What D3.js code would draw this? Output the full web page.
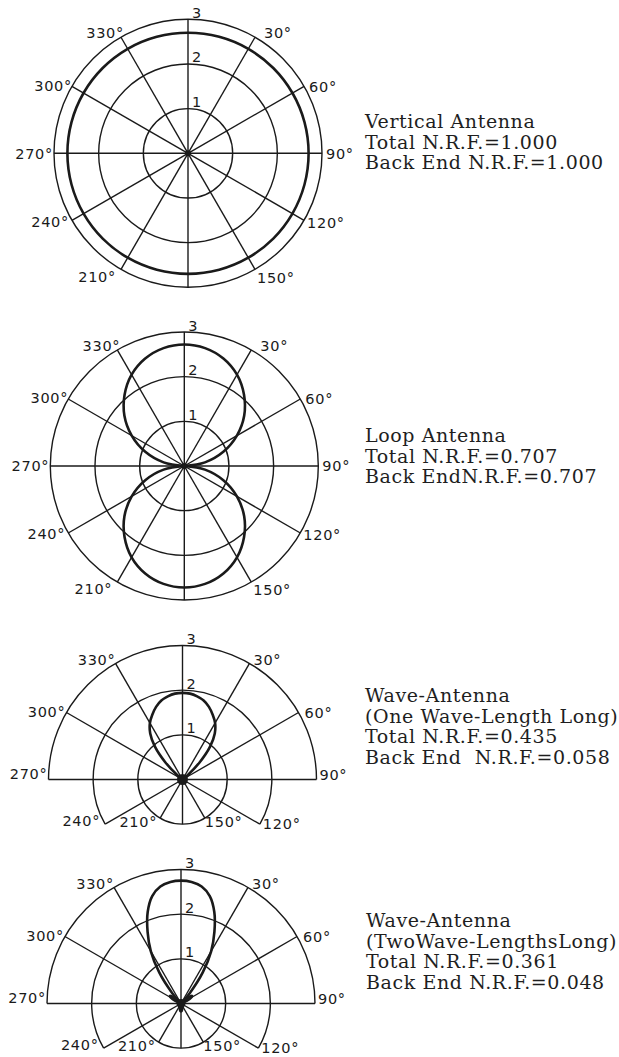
<!DOCTYPE html>
<html>
<head>
<meta charset="utf-8">
<script src="https://cdn.jsdelivr.net/npm/d3@7"></script>
<style>
  html, body { margin: 0; padding: 0; background: #fff; }
  svg { display: block; }
  .deg { font-family: "DejaVu Sans", sans-serif; font-size: 14.5px; letter-spacing: 0.7px; fill: #1a1a1a; }
  .caption { font-family: "DejaVu Serif", serif; font-size: 19px; letter-spacing: 0.6px; fill: #1e1e1e; white-space: pre; }
</style>
</head>
<body>
<script>
// ---- shared axes ----
const angleTicks = [0, 30, 60, 90, 120, 150, 180, 210, 240, 270, 300, 330];
const angleTickLabels = ["", "30°", "60°", "90°", "120°", "150°", "", "210°", "240°", "270°", "300°", "330°"];
const ringTicks = [1, 2, 3];
const ringTickLabels = ["1", "2", "3"];

// ---- radiation patterns (degrees, relative field strength) ----
const verticalAngles = [0, 15, 30, 45, 60, 75, 90, 105, 120, 135, 150, 165, 180, 195, 210, 225, 240, 255, 270, 285, 300, 315, 330, 345];
const verticalValues = [2.7, 2.7, 2.7, 2.7, 2.7, 2.7, 2.7, 2.7, 2.7, 2.7, 2.7, 2.7, 2.7, 2.7, 2.7, 2.7, 2.7, 2.7, 2.7, 2.7, 2.7, 2.7, 2.7, 2.7];

const loopAngles = [0, 10, 20, 30, 40, 50, 60, 70, 80, 90, 100, 110, 120, 130, 140, 150, 160, 170, 180, 190, 200, 210, 220, 230, 240, 250, 260, 270, 280, 290, 300, 310, 320, 330, 340, 350];
const loopValues = [2.72, 2.68, 2.56, 2.36, 2.08, 1.75, 1.36, 0.93, 0.47, 0, 0.47, 0.93, 1.36, 1.75, 2.08, 2.36, 2.56, 2.68, 2.72, 2.68, 2.56, 2.36, 2.08, 1.75, 1.36, 0.93, 0.47, 0, 0.47, 0.93, 1.36, 1.75, 2.08, 2.36, 2.56, 2.68];

const waveOneAngles = [0, 5, 10, 15, 20, 25, 30, 35, 40, 45, 50, 55, 90, 180, 270, 305, 310, 315, 320, 325, 330, 335, 340, 345, 350, 355];
const waveOneValues = [1.94, 1.93, 1.89, 1.83, 1.73, 1.60, 1.46, 1.26, 0.96, 0.54, 0.15, 0, 0, 0, 0, 0, 0.15, 0.54, 0.96, 1.26, 1.46, 1.60, 1.73, 1.83, 1.89, 1.93];

const waveTwoAngles = [0, 5, 10, 15, 20, 25, 30, 35, 40, 45, 50, 55, 60, 65, 70, 160, 170, 180, 190, 200, 290, 295, 300, 305, 310, 315, 320, 325, 330, 335, 340, 345, 350, 355];
const waveTwoValues = [2.75, 2.73, 2.66, 2.49, 2.18, 1.77, 1.35, 0.85, 0.31, 0, 0.20, 0.30, 0.26, 0.15, 0, 0, 0.14, 0.18, 0.14, 0, 0, 0.15, 0.26, 0.30, 0.20, 0, 0.31, 0.85, 1.35, 1.77, 2.18, 2.49, 2.66, 2.73];

// ---- captions ----
const verticalCaption = ["Vertical Antenna", "Total N.R.F.=1.000", "Back End N.R.F.=1.000"];
const loopCaption = ["Loop Antenna", "Total N.R.F.=0.707", "Back EndN.R.F.=0.707"];
const waveOneCaption = ["Wave-Antenna", "(One Wave-Length Long)", "Total N.R.F.=0.435", "Back End  N.R.F.=0.058"];
const waveTwoCaption = ["Wave-Antenna", "(TwoWave-LengthsLong)", "Total N.R.F.=0.361", "Back End N.R.F.=0.048"];

// ---- layout ----
const width = 619, height = 1057;
const outerR = 134;
const rScale = d3.scaleLinear().domain([0, 3]).range([0, outerR]);
const rad = d => d * Math.PI / 180;
const ink = "#1a1a1a";

const panels = [
  { cx: 188, cy: 153.3, half: false, angles: verticalAngles, values: verticalValues, hub: 3, caption: verticalCaption, tx: 365, ty: 128 },
  { cx: 184.3, cy: 466, half: false, angles: loopAngles, values: loopValues, hub: 3, caption: loopCaption, tx: 365, ty: 442 },
  { cx: 182.5, cy: 779.5, half: true, angles: waveOneAngles, values: waveOneValues, hub: 5.5, caption: waveOneCaption, tx: 365, ty: 702 },
  { cx: 181, cy: 1003.5, half: true, angles: waveTwoAngles, values: waveTwoValues, hub: 4.5, caption: waveTwoCaption, tx: 366, ty: 927.3 }
];

// label nudges [dx, dy of label centre] relative to spoke end
const nudgeFull = { 30: [9, -4], 60: [5, 0], 90: [4, 0], 120: [3, 2], 150: [2, 8], 210: [-5, 7], 240: [-3, 1], 270: [-1, 0], 300: [0, -1], 330: [3, -4] };
const nudgeHalf = { 30: [4, -4], 60: [6, 0], 90: [3, -5], 120: [3, 0], 150: [0, 4], 210: [-3, 4], 240: [-5, -3], 270: [-1, -6], 300: [-1, -1], 330: [0, -4] };

const svg = d3.select("body").append("svg")
  .attr("width", width).attr("height", height)
  .attr("viewBox", [0, 0, width, height]);

// spoke length (in field units) for the half-plane charts
function spokeValue(panel, a) {
  if (!panel.half) return 3;
  if (a >= 150 && a <= 210) return 1;
  if (a === 120 || a === 240) return 2;
  return 3;
}

function polar(a, v) {
  const r = rScale(v);
  return [r * Math.sin(rad(a)), -r * Math.cos(rad(a))];
}

panels.forEach(p => {
  const g = svg.append("g").attr("transform", `translate(${p.cx},${p.cy})`);
  const grid = g.append("g").attr("fill", "none").attr("stroke", ink).attr("stroke-width", 1.4);

  // rings
  ringTicks.forEach(v => {
    const r = rScale(v);
    if (!p.half || v === 1) {
      grid.append("circle").attr("r", r);
    } else {
      const path = d3.path();
      const span = v === 2 ? 120 : 90;
      path.arc(0, 0, r, rad(-span - 90), rad(span - 90));
      grid.append("path").attr("d", path.toString());
    }
  });

  // spokes
  angleTicks.forEach(a => {
    const [x, y] = polar(a, spokeValue(p, a));
    grid.append("line").attr("x1", 0).attr("y1", 0).attr("x2", x).attr("y2", y);
  });

  // pattern: split into lobes at the nulls
  const pts = p.angles.map((a, i) => ({ a, v: p.values[i] }));
  const radial = d3.lineRadial().angle(d => rad(d.a)).radius(d => rScale(d.v));
  const patG = g.append("g").attr("fill", "none").attr("stroke", ink)
    .attr("stroke-width", 2.6).attr("stroke-linejoin", "round").attr("stroke-linecap", "round");
  const z = pts.findIndex(d => d.v === 0);
  if (z < 0) {
    patG.append("path").attr("d", radial.curve(d3.curveCatmullRomClosed)(pts));
  } else {
    const rot = pts.slice(z).concat(pts.slice(0, z + 1));
    let seg = [rot[0]];
    for (let i = 1; i < rot.length; i++) {
      seg.push(rot[i]);
      if (rot[i].v === 0) {
        if (seg.length > 2) patG.append("path").attr("d", radial.curve(d3.curveCatmullRom)(seg));
        seg = [rot[i]];
      }
    }
  }

  // hub
  g.append("circle").attr("r", p.hub).attr("fill", ink);

  // ring labels
  ringTicks.forEach((v, i) => {
    g.append("text").attr("class", "deg")
      .attr("x", 4).attr("y", -rScale(v) - 1.5)
      .text(ringTickLabels[i]);
  });

  // angle labels
  const nudge = p.half ? nudgeHalf : nudgeFull;
  angleTicks.forEach((a, i) => {
    if (!angleTickLabels[i]) return;
    const [x, y] = polar(a, spokeValue(p, a));
    const [dx, dy] = nudge[a];
    g.append("text").attr("class", "deg")
      .attr("x", x + dx).attr("y", y + dy)
      .attr("dy", "0.36em")
      .attr("text-anchor", a < 180 ? "start" : "end")
      .text(angleTickLabels[i]);
  });

  // caption
  svg.append("g").selectAll("text").data(p.caption).join("text")
    .attr("class", "caption")
    .attr("x", p.tx)
    .attr("y", (d, i) => p.ty + i * 20.5)
    .text(d => d);
});
</script>
</body>
</html>
